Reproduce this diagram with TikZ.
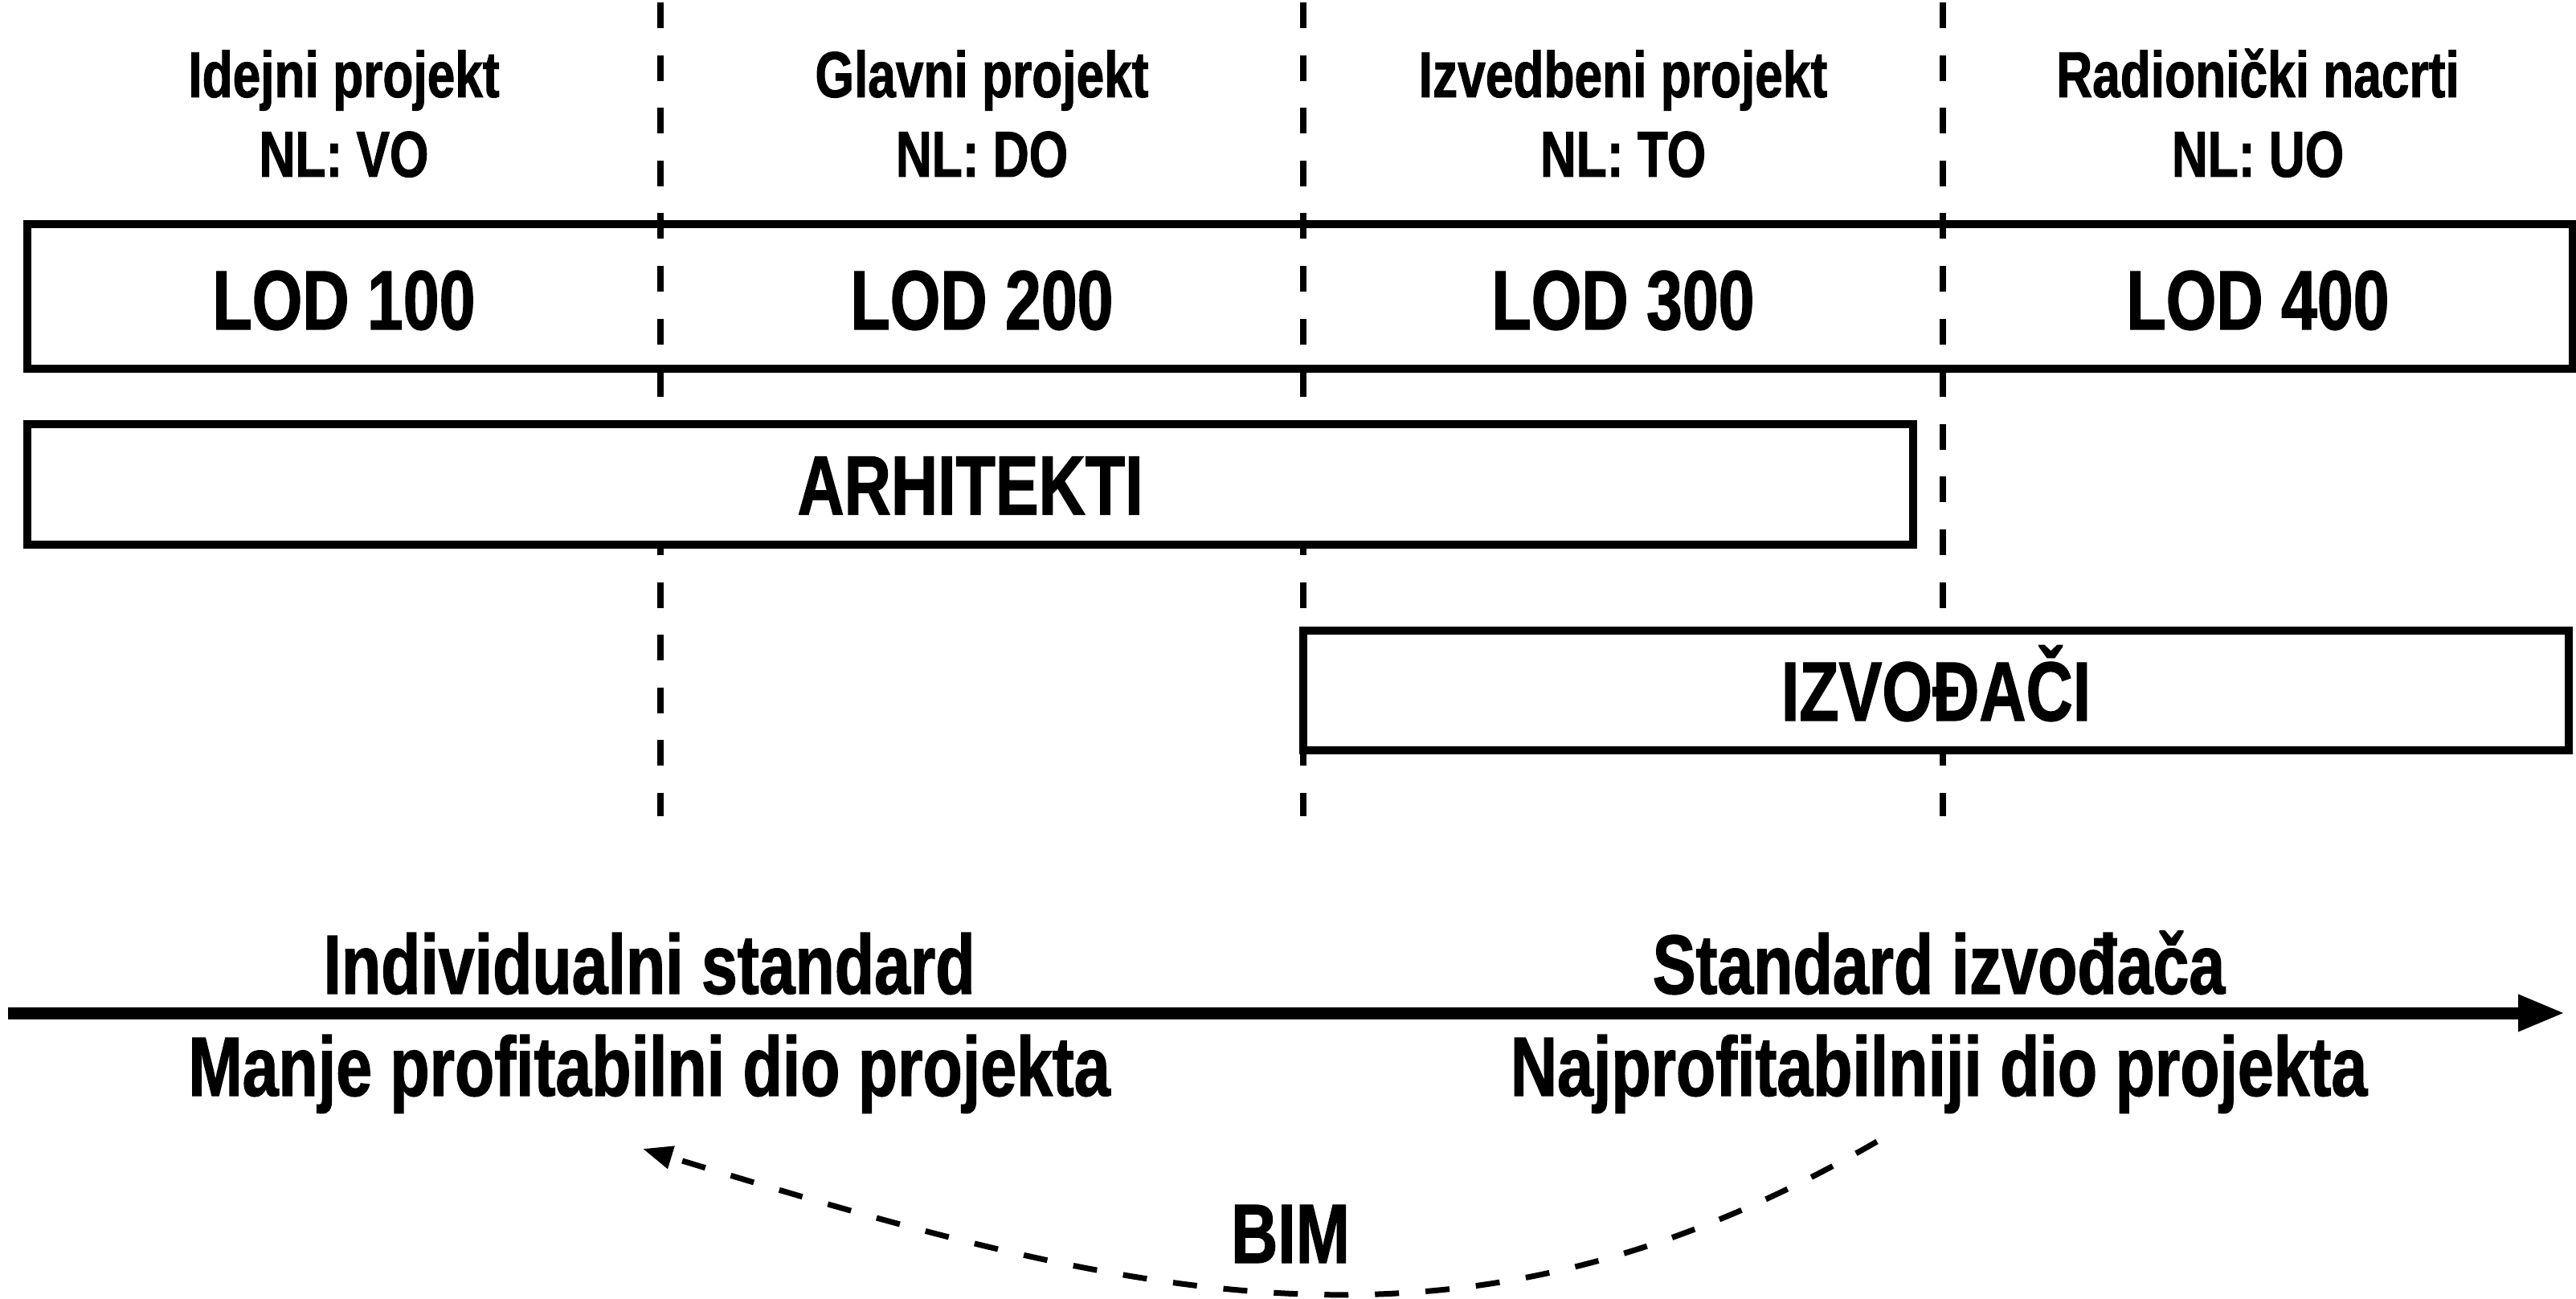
\documentclass[tikz,border=0pt]{standalone}
\usepackage{fontspec}
\setmainfont{Liberation Sans}[FakeStretch=0.77, FakeBold=1.2]
\usetikzlibrary{arrows.meta}
\tikzset{
	bigtxt/.style={font=\bfseries\fontsize{29.8pt}{34pt}\selectfont, inner sep=0pt},
	hdrtxt/.style={font=\bfseries\fontsize{23pt}{28.2pt}\selectfont, align=center, inner sep=0pt},
	phasebox/.style={draw, line width=1mm, bigtxt, text height=0.75cm, text depth=0pt},
	phaseline/.style={line width=0.08cm, dash pattern=on 0.32cm off 0.336cm},
	timeaxis/.style={line width=0.15cm, -{Triangle[length=0.59cm,width=0.42cm]}},
	bimline/.style={line width=0.07cm, dash pattern=on 0.30cm off 0.33cm, -{Triangle[length=0.37cm,width=0.28cm]}}
}

\begin{document}
\begin{tikzpicture}
		%%%%% START %%%%%
		\useasboundingbox (0,0) rectangle (32.06,-16.17);
		
		% faze projekta
		\foreach \x/\a/\b [count=\i] in {4.28/Idejni projekt/VO, 12.22/Glavni projekt/DO, 20.20/Izvedbeni projekt/TO, 28.10/Radionički nacrti/UO}
			\node[hdrtxt, anchor=base] (faza\i) at (\x,-2.20) {\a\\NL: \b};
		
		\foreach \x in {8.22, 16.22, 24.18}
			\draw[phaseline] (\x,-0.03) -- (\x,-10.16);
		
		% LOD
		\node[phasebox, minimum width=31.68cm, minimum height=1.8cm] (lodbox) at (16.18,-3.69) {};
		\foreach \x/\t [count=\i] in {4.28/100, 12.22/200, 20.20/300, 28.10/400}
			\node[bigtxt, anchor=base] (lod\i) at (\x,-4.10) {LOD \t};
		
		\node[phasebox, fill=white, minimum width=23.47cm, minimum height=1.5cm] (arhitekti) at (12.075,-6.03) {ARHITEKTI};
		\node[phasebox, fill=white, minimum width=15.75cm, minimum height=1.49cm] (izvodjaci) at (24.095,-8.595) {IZVOĐAČI};
		
		% os
		\coordinate (osA) at (0.10,-12.61);
		\coordinate (osB) at (31.93,-12.61);
		\draw[timeaxis] (osA) -- (osB);
		
		\node[bigtxt, anchor=base] (indstd) at (8.08,-12.37) {Individualni standard};
		\node[bigtxt, anchor=base] (manje) at (8.08,-13.64) {Manje profitabilni dio projekta};
		\node[bigtxt, anchor=base] (izvstd) at (24.13,-12.37) {Standard izvođača};
		\node[bigtxt, anchor=base] (najpro) at (24.13,-13.64) {Najprofitabilniji dio projekta};
		
		% BIM
		\coordinate (bimA) at (23.36,-14.21);
		\coordinate (bimB) at (8.00,-14.30);
		\draw[bimline] (bimA) .. controls (18.16,-17.21) and (14.22,-16.20) .. (bimB);
		\node[bigtxt, anchor=base] (bim) at (16.06,-15.72) {BIM};
		
		%%%%% END %%%%%
\end{tikzpicture}
\end{document}
